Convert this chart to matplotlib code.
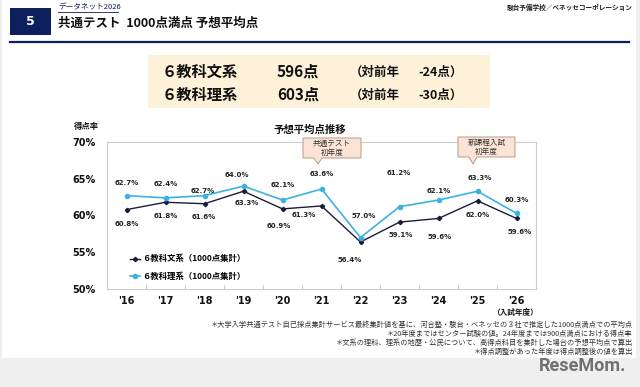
import matplotlib
matplotlib.use("Agg")
import matplotlib.pyplot as plt
from matplotlib.patches import Rectangle, Polygon
from matplotlib.lines import Line2D

plt.rcParams['font.family'] = ['Noto Sans CJK JP', 'DejaVu Sans']

# データ
years = ["'16", "'17", "'18", "'19", "'20", "'21", "'22", "'23", "'24", "'25", "'26"]
bunkei = [60.8, 61.8, 61.6, 63.3, 60.9, 61.3, 56.4, 59.1, 59.6, 62.0, 59.6]
rikei = [62.7, 62.4, 62.7, 64.0, 62.1, 63.6, 57.0, 61.2, 62.1, 63.3, 60.3]
yticks = [50, 55, 60, 65, 70]
label_bunkei = "６教科文系（1000点集計）"
label_rikei = "６教科理系（1000点集計）"

# ラベルのずらし (px)
off_bunkei = [(0, -14), (0, -14), (-1, -13), (3, -12), (-4, -17), (-18, -9),
              (-11, -18), (1, -13), (1, -19), (0, -14), (3, -14)]
off_rikei = [(0, 13), (0, 14), (-2, 5), (-7, 11), (0, 15), (0, 15),
             (3, 22), (-1, 34), (0, 9), (2, 13), (0, 13)]

W, H = 640, 387
fig = plt.figure(figsize=(6.4, 3.87), dpi=100)
fig.patch.set_facecolor('#efefef')


def fx(x):
    return x / W


def fy(y):
    return 1 - y / H


def ftext(x, y, s, **kw):
    fig.text(fx(x), fy(y), s, **kw)


# 白いパネル
fig.patches.append(Rectangle((fx(2), fy(358)), fx(634), 358 / H, transform=fig.transFigure,
                             facecolor='white', edgecolor='none', zorder=-1))

navy = '#0d1f5c'
# ヘッダー
fig.patches.append(Rectangle((fx(10), fy(35)), fx(41), 27 / H, transform=fig.transFigure,
                             facecolor=navy, edgecolor='none'))
ftext(30.5, 21.5, "5", color='white', fontsize=9, fontweight='bold', ha='center', va='center',
      family='DejaVu Sans')
ftext(58, 7, "データネット2026", color=navy, fontsize=5.5, ha='left', va='center')
fig.add_artist(Line2D([fx(58), fx(118)], [fy(12), fy(12)], color=navy, lw=0.6))
ftext(58, 23, "共通テスト  1000点満点 予想平均点", color='#111111', fontsize=9,
      fontweight='bold', ha='left', va='center')
ftext(633, 7, "駿台予備学校／ベネッセコーポレーション", color='#222222', fontsize=4.8,
      fontweight='bold', ha='right', va='center')
fig.add_artist(Line2D([fx(10), fx(629)], [fy(42), fy(42)], color=navy, lw=1.6))

# 得点ボックス
fig.patches.append(Rectangle((fx(148), fy(108)), fx(342), 53 / H, transform=fig.transFigure,
                             facecolor='#fdf2d9', edgecolor='none'))
rows = [(72, "６教科文系", "596点", "-24点）"), (95, "６教科理系", "603点", "-30点）")]
for y, a, b, c in rows:
    ftext(162, y, a, fontsize=11, fontweight='bold', ha='left', va='center', color='#111111')
    ftext(277, y, b, fontsize=11, fontweight='bold', ha='left', va='center', color='#111111')
    ftext(350, y, "（対前年", fontsize=9, fontweight='bold', ha='left', va='center', color='#111111')
    ftext(418, y, c, fontsize=9, fontweight='bold', ha='left', va='center', color='#111111')

# グラフ
ax = fig.add_axes([fx(107), fy(289), fx(536 - 107), (289 - 142) / H])
ax.set_zorder(2)
ax.patch.set_facecolor('white')
x = list(range(len(years)))
ax.plot(x, bunkei, color='#1c1c3a', lw=1.0, marker='D', ms=2.2, label=label_bunkei, zorder=3)
ax.plot(x, rikei, color='#3cb2e4', lw=1.2, marker='o', ms=3, label=label_rikei, zorder=3)

for i in x:
    ax.annotate(f"{bunkei[i]:.1f}%", (i, bunkei[i]), xytext=off_bunkei[i], textcoords='offset pixels',
                ha='center', va='center', fontsize=5, fontweight='bold', color='#222222',
                family='DejaVu Sans')
    ax.annotate(f"{rikei[i]:.1f}%", (i, rikei[i]), xytext=off_rikei[i], textcoords='offset pixels',
                ha='center', va='center', fontsize=5, fontweight='bold', color='#222222',
                family='DejaVu Sans')

ax.set_xlim(-0.5, len(years) - 0.5)
ax.set_ylim(50, 70)
ax.set_yticks(yticks)
ax.set_yticklabels([f"{v}%" for v in yticks], fontsize=7, fontweight='bold', family='DejaVu Sans')
ax.set_xticks(x)
ax.set_xticklabels(years, fontsize=7, fontweight='bold', family='DejaVu Sans')
ax.set_xticks([i + 0.5 for i in x[:-1]], minor=True)
ax.tick_params(axis='y', which='major', length=0, pad=8, colors='#111111')
ax.tick_params(axis='x', which='major', length=0, pad=5, colors='#111111')
ax.tick_params(axis='x', which='minor', direction='in', length=3, color='#bbbbbb')
for s in ax.spines.values():
    s.set_color('#cccccc')
    s.set_linewidth(0.8)

ax.legend(loc='lower left', bbox_to_anchor=(0.035, 0.005), frameon=False,
          handlelength=1.2, handletextpad=0.3, labelspacing=1.0,
          prop={'weight': 'bold', 'size': 6})

ftext(310, 130, "予想平均点推移", fontsize=7.5, fontweight='bold', ha='center', va='center', color='#111111')
ftext(86, 127, "得点率", fontsize=6, fontweight='bold', ha='center', va='center', color='#111111')
ftext(516, 313, "（入試年度）", fontsize=5.5, fontweight='bold', ha='center', va='center', color='#111111')


# 吹き出し
def callout(x0, x1, y0, y1, tip, text):
    tx, ty = tip
    pts = [(x0, y0), (x1, y0), (x1, y1), (tx + 4, y1), (tx, ty), (tx - 4, y1), (x0, y1)]
    poly = Polygon([(fx(a), fy(b)) for a, b in pts], closed=True, transform=fig.transFigure,
                   facecolor='#fbe4d5', edgecolor='#b59a88', lw=0.7, zorder=5)
    fig.patches.append(poly)
    ftext((x0 + x1) / 2, (y0 + y1) / 2, text, fontsize=5.5, ha='center', va='center',
          color='#333333', linespacing=1.15, zorder=6)


callout(303, 361, 138, 158, (318, 164), "共通テスト\n初年度")
callout(458, 515, 137, 157, (473, 164), "新課程入試\n初年度")

# 注記
notes = [
    "＊大学入学共通テスト自己採点集計サービス最終集計値を基に、河合塾・駿台・ベネッセの３社で推定した1000点満点での平均点",
    "＊20年度まではセンター試験の値。24年度までは900点満点における得点率",
    "＊文系の理科、理系の地歴・公民について、高得点科目を集計した場合の予想平均点で算出",
    "＊得点調整があった年度は得点調整後の値を算出",
]
for k, s in enumerate(notes):
    ftext(633, 325 + k * 9, s, fontsize=5.2, ha='right', va='center', color='#333333')

ftext(626, 366, "ReseMom.", fontsize=13, fontweight='bold', ha='right', va='center',
      color='#707070', family='Roboto')

fig.savefig("out.png", dpi=100, facecolor=fig.get_facecolor())
